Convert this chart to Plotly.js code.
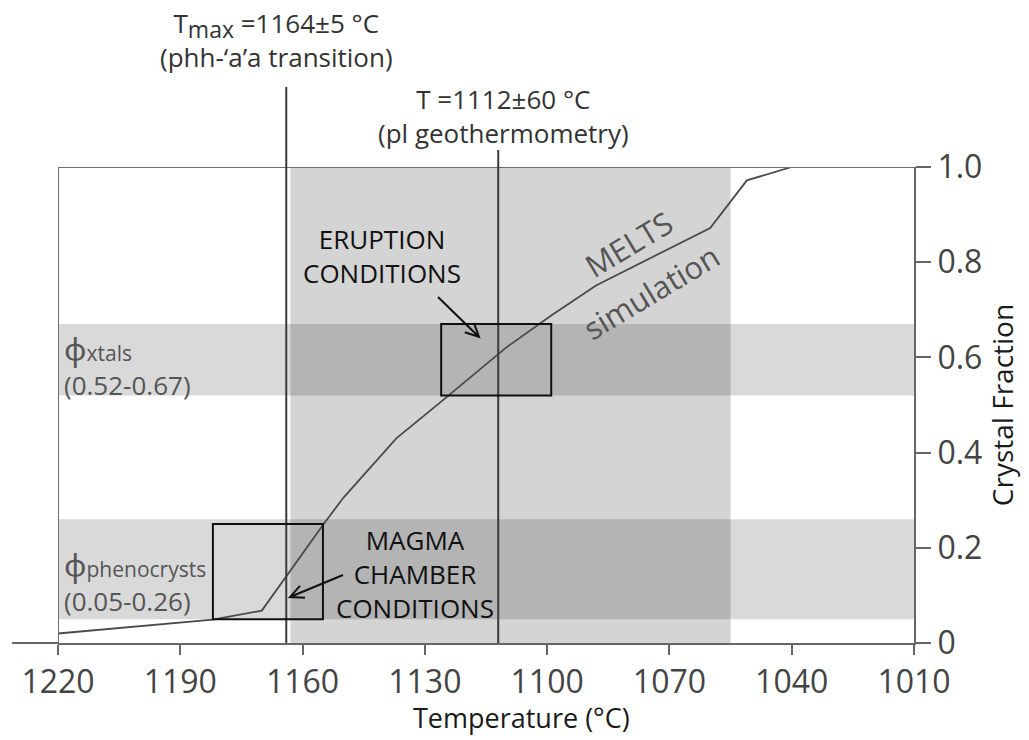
<!DOCTYPE html>
<html>
<head>
<meta charset="utf-8">
<script src="https://cdn.plot.ly/plotly-3.0.1.min.js"></script>
<style>
  html, body { margin: 0; padding: 0; background: #fff; }
  #chart { width: 1029px; height: 740px; }
</style>
</head>
<body>
<div id="chart"></div>
<script>
// MELTS crystallisation path: temperature (°C) against crystal fraction
const meltsTemp = [1220, 1182, 1170, 1155, 1150, 1137, 1126, 1110, 1099, 1088, 1060, 1051, 1040];
const meltsPhi  = [0.02, 0.049, 0.068, 0.248, 0.305, 0.43, 0.507, 0.621, 0.688, 0.751, 0.872, 0.972, 1.0];

// Temperature constraints
const tMax = 1164;          // phh-'a'a transition
const tPlag = 1112;         // plagioclase geothermometry
const tempBand = [1163, 1055];

// Crystal-fraction ranges
const phiXtals = [0.52, 0.67];
const phiPheno = [0.05, 0.26];

// Condition boxes (temperature span, crystal-fraction span)
const eruptionT = [1126, 1099];
const magmaT = [1182, 1155];
const magmaPhi = [0.05, 0.25];

// Axis ticks
const tempTicks = [1220, 1190, 1160, 1130, 1100, 1070, 1040, 1010];
const phiTicks = [0, 0.2, 0.4, 0.6, 0.8, 1.0];
const phiTickText = ['0', '0.2', '0.4', '0.6', '0.8', '1.0'];

const W = 1029, H = 740;
const M = { l: 58, r: 115, t: 167, b: 97 };
const PW = W - M.l - M.r, PH = H - M.t - M.b;
const FONT = 'Open Sans, Noto Sans, sans-serif';

// pixel -> paper helpers for decorations drawn outside the data
const px = x => (x - M.l) / PW;
const py = y => (H - M.b - y) / PH;

// open chevron arrow as an SVG path in paper coordinates
function arrowPath(tail, head, len, ang) {
  const dx = tail[0] - head[0], dy = tail[1] - head[1];
  const d = Math.hypot(dx, dy), ux = dx / d, uy = dy / d;
  const rot = a => [ux * Math.cos(a) - uy * Math.sin(a), ux * Math.sin(a) + uy * Math.cos(a)];
  const w1 = rot(ang), w2 = rot(-ang);
  const P = p => px(p[0]).toFixed(5) + ',' + py(p[1]).toFixed(5);
  return 'M' + P(tail) + ' L' + P(head) +
         ' M' + P([head[0] + w1[0] * len, head[1] + w1[1] * len]) + ' L' + P(head) +
         ' L' + P([head[0] + w2[0] * len, head[1] + w2[1] * len]);
}

const bandFill = 'rgba(0,0,0,0.15)';
const vbandFill = 'rgba(0,0,0,0.17)';
const tFirst = tempTicks[0], tLast = tempTicks[tempTicks.length - 1];

const shapes = [
  // shaded ranges
  { type: 'rect', xref: 'x', yref: 'y', x0: tFirst, x1: tLast,
    y0: phiXtals[0], y1: phiXtals[1], fillcolor: bandFill, line: { width: 0 }, layer: 'below' },
  { type: 'rect', xref: 'x', yref: 'y', x0: tFirst, x1: tLast,
    y0: phiPheno[0], y1: phiPheno[1], fillcolor: bandFill, line: { width: 0 }, layer: 'below' },
  { type: 'rect', xref: 'x', yref: 'y', x0: tempBand[0], x1: tempBand[1],
    y0: 0, y1: 1, fillcolor: vbandFill, line: { width: 0 }, layer: 'below' },
  // frame (top and left)
  { type: 'line', xref: 'x', yref: 'y', x0: tFirst, x1: tLast, y0: 1, y1: 1,
    line: { color: '#6e6e6e', width: 2 } },
  { type: 'line', xref: 'x', yref: 'y', x0: tFirst, x1: tFirst, y0: 0, y1: 1,
    line: { color: '#6e6e6e', width: 2 } },
  // x axis line running past the left frame
  { type: 'line', xref: 'paper', yref: 'paper', x0: px(12), x1: 0, y0: 0, y1: 0,
    line: { color: '#666', width: 2 } },
  // temperature constraints
  { type: 'line', xref: 'x', yref: 'paper', x0: tMax, x1: tMax, y0: 0, y1: py(87),
    line: { color: '#3a3a3a', width: 2 } },
  { type: 'line', xref: 'x', yref: 'paper', x0: tPlag, x1: tPlag, y0: 0, y1: py(150),
    line: { color: '#3a3a3a', width: 2 } },
  // condition boxes
  { type: 'rect', xref: 'x', yref: 'y', x0: eruptionT[0], x1: eruptionT[1],
    y0: phiXtals[0], y1: phiXtals[1], line: { color: '#111', width: 2 } },
  { type: 'rect', xref: 'x', yref: 'y', x0: magmaT[0], x1: magmaT[1],
    y0: magmaPhi[0], y1: magmaPhi[1], line: { color: '#111', width: 2 } },
  // pointer arrows
  { type: 'path', xref: 'paper', yref: 'paper', path: arrowPath([438, 297], [479, 337], 15, 0.45),
    line: { color: '#111', width: 2 } },
  { type: 'path', xref: 'paper', yref: 'paper', path: arrowPath([343, 575], [290, 597], 15, 0.45),
    line: { color: '#111', width: 2 } }
];

const txt = (text, x, y, opts) => Object.assign({
  text, x, y, xref: 'x', yref: 'y', showarrow: false, yanchor: 'middle', xanchor: 'center',
  font: { family: FONT, size: 26, color: '#333' }
}, opts || {});

const greyFont = { family: FONT, size: 26, color: '#555' };

const annotations = [
  txt('T<sub><span style="font-size:23px">max</span></sub> =1164±5 °C<br>(phh-‘a’a transition)', 1166.3, py(40), { yref: 'paper' }),
  txt('T =1112±60 °C<br>(pl geothermometry)', 1110.6, py(116), { yref: 'paper' }),
  txt('ERUPTION<br>CONDITIONS', 1140.4, 0.814, { font: { family: FONT, size: 26, color: '#111' } }),
  txt('MAGMA<br>CHAMBER<br>CONDITIONS', 1132.4, 0.146, { font: { family: FONT, size: 26, color: '#111' } }),
  txt('<span style="font-size:31px">ϕ</span><span style="font-size:21px">xtals</span><br>(0.52-0.67)', 1219, 0.584,
      { xanchor: 'left', align: 'left', font: greyFont }),
  txt('<span style="font-size:31px">ϕ</span><span style="font-size:21px">phenocrysts</span><br>(0.05-0.26)', 1219, 0.130,
      { xanchor: 'left', align: 'left', font: greyFont }),
  txt('MELTS', 1080, 0.838, { textangle: -31, font: { family: FONT, size: 31, color: '#555' } }),
  txt('simulation', 1074.6, 0.738, { textangle: -31, font: { family: FONT, size: 31, color: '#555' } }),
  // x axis title
  txt('Temperature (°C)', 1106.4, py(717), { yref: 'paper', font: { family: FONT, size: 27, color: '#1a1a1a' } })
];

const traces = [{
  type: 'scatter', mode: 'lines', x: meltsTemp, y: meltsPhi,
  line: { color: '#4a4a4a', width: 1.8 }, hoverinfo: 'skip', showlegend: false, cliponaxis: false
}];

const axisCommon = {
  showgrid: false, zeroline: false, showline: true, linecolor: '#666', linewidth: 2,
  ticks: 'outside', tickwidth: 2, tickcolor: '#666',
  tickfont: { family: FONT, size: 32, color: '#444' }
};

const layout = {
  width: W, height: H, margin: M,
  paper_bgcolor: '#fff', plot_bgcolor: '#fff',
  showlegend: false,
  xaxis: Object.assign({}, axisCommon, {
    range: [1220, 1010], tickvals: tempTicks, ticklen: 10
  }),
  yaxis: Object.assign({}, axisCommon, {
    range: [0, 1], side: 'right', tickvals: phiTicks, ticktext: phiTickText, ticklen: 15,
    title: { text: 'Crystal Fraction', font: { family: FONT, size: 28, color: '#1a1a1a' }, standoff: 12 }
  }),
  shapes, annotations
};

Plotly.newPlot('chart', traces, layout, { staticPlot: true, displayModeBar: false });
</script>
</body>
</html>
